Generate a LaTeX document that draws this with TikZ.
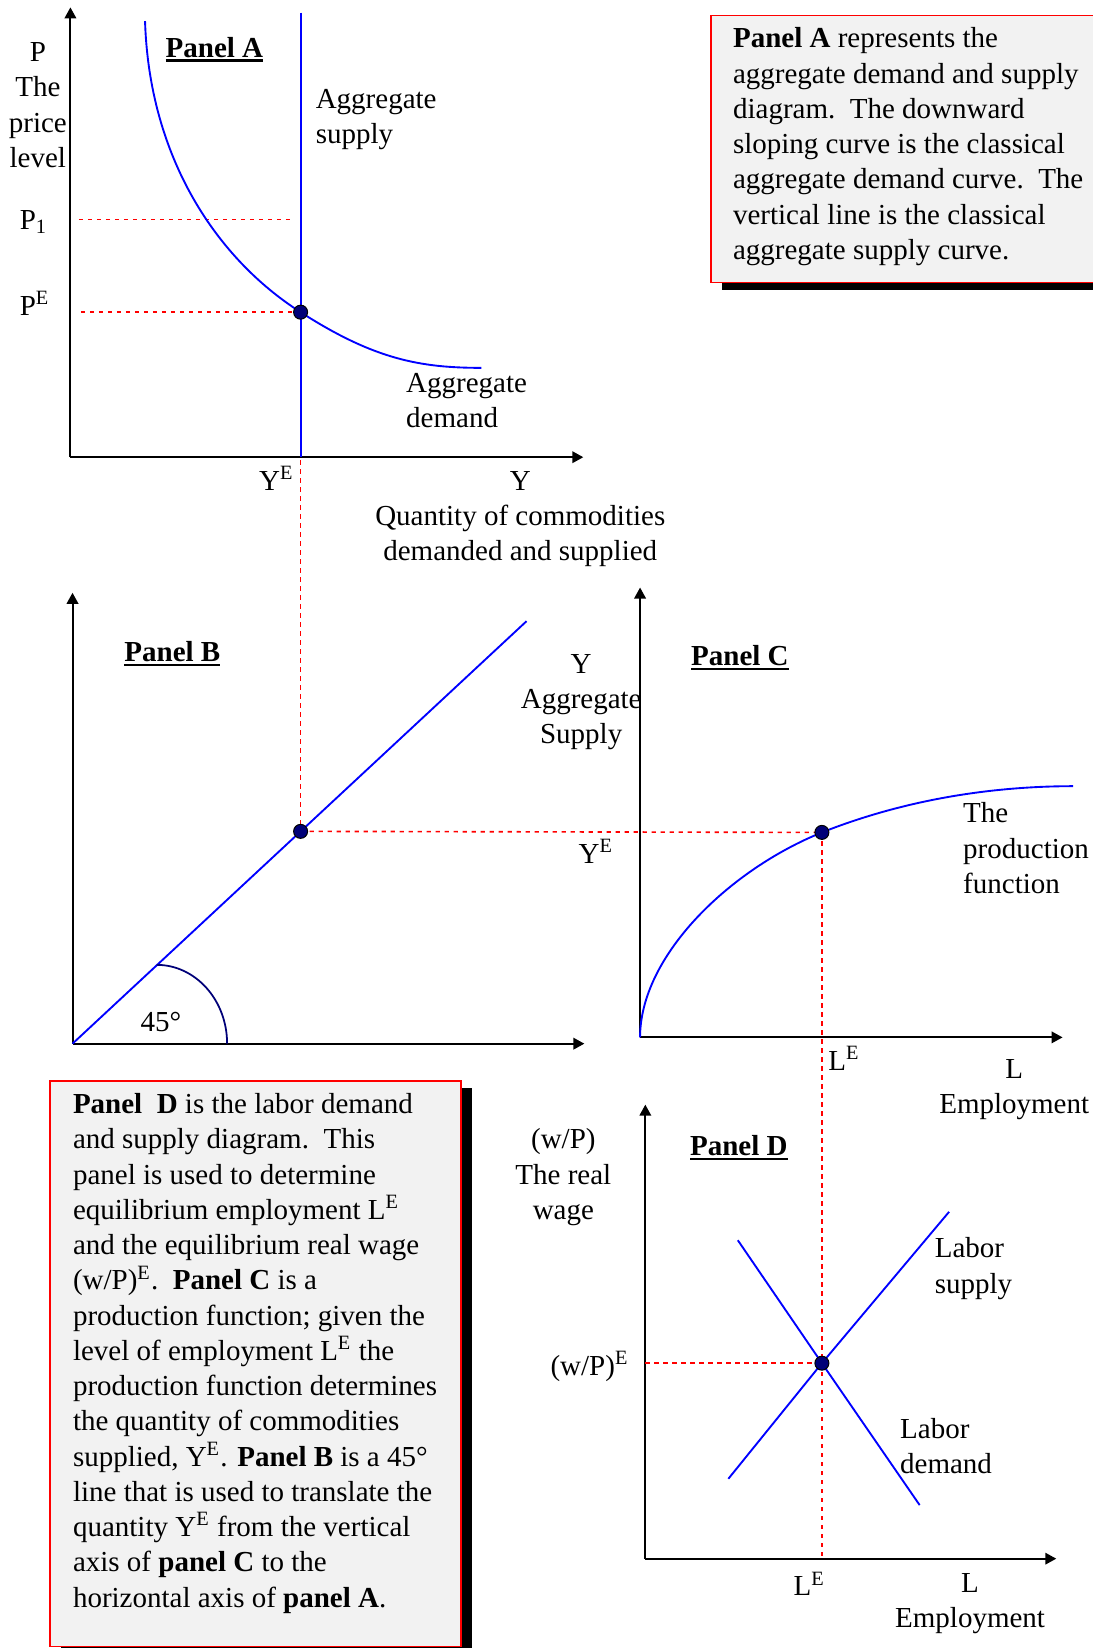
\documentclass[tikz,border=0pt]{standalone}
\usepackage{fontspec}
\setmainfont{Liberation Serif}
\usetikzlibrary{arrows.meta, shadows}
\definecolor{eqnavy}{RGB}{0,0,120}
\definecolor{boxgray}{RGB}{242,242,242}
\newcommand{\diagfont}{\fontsize{11.6pt}{14.1pt}\selectfont}
\newcommand{\panelname}[1]{\setbox0\hbox{\bfseries #1}\rlap{\rule[-1.7pt]{\wd0}{0.85pt}}\box0}
\tikzstyle{axisline} = [line width=0.8pt, -{Triangle[length=4.4pt, width=4.6pt]}]
\tikzstyle{bluecurve} = [blue, line width=0.75pt]
\tikzstyle{guideline} = [red, line width=0.65pt, dash pattern=on 1.7pt off 1.9pt]
\tikzstyle{eqdot} = [circle, fill=eqnavy, draw=black, line width=0.4pt, inner sep=0pt, minimum size=5.6pt]
\tikzstyle{lbl} = [inner sep=0pt, align=center, font=\diagfont]
\tikzstyle{sidelbl} = [inner sep=0pt, align=left, anchor=west, font=\diagfont]
\tikzstyle{textframe} = [rectangle, draw=red, line width=0.6pt, fill=boxgray, anchor=north west, inner sep=0pt, drop shadow={shadow xshift=4.2pt, shadow yshift=-2.9pt, fill=black, opacity=1}]
\tikzstyle{boxtext} = [inner sep=0pt, align=left, anchor=north west, font=\diagfont]

\begin{document}
\begin{tikzpicture}[x=0.4204pt, y=-0.4204pt]
    \useasboundingbox (0,0) rectangle (1039,1568);

    % Panel A
    \coordinate (oA) at (67,435);
    \coordinate (yA) at (67,7);
    \coordinate (xA) at (555,435);
    \coordinate (asTop) at (286,12);
    \coordinate (adTop) at (138,20);
    \coordinate (adEnd) at (458,350);
    \coordinate (p1L) at (75,209);
    \coordinate (p1R) at (278,209);
    \coordinate (peL) at (77,297);
    \coordinate (eA) at (286,297);
    \coordinate (yeA) at (286,438);

    % Panel B
    \coordinate (oB) at (69,993);
    \coordinate (yB) at (69,564);
    \coordinate (xB) at (556,993);
    \coordinate (diagEnd) at (501,591);
    \coordinate (eB) at (286,791);
    \coordinate (arcTop) at (149,918);

    % Panel C
    \coordinate (oC) at (609,987);
    \coordinate (yC) at (609,559);
    \coordinate (xC) at (1011,987);
    \coordinate (eC) at (782,792);
    \coordinate (pfEnd) at (1021,748);

    % Panel D
    \coordinate (oD) at (614,1483);
    \coordinate (yD) at (614,1051);
    \coordinate (xD) at (1005,1483);
    \coordinate (eD) at (782,1297);
    \coordinate (ldTop) at (702,1180);
    \coordinate (ldBot) at (875,1432);
    \coordinate (lsBot) at (693,1407);
    \coordinate (lsTop) at (903,1153);

    \draw[axisline] (oA) -- (yA);
    \draw[axisline] (oA) -- (xA);
    \draw[axisline] (oB) -- (yB);
    \draw[axisline] (oB) -- (xB);
    \draw[axisline] (oC) -- (yC);
    \draw[axisline] (oC) -- (xC);
    \draw[axisline] (oD) -- (yD);
    \draw[axisline] (oD) -- (xD);

    \draw[guideline] (p1L) -- (p1R);
    \draw[guideline] (peL) -- (eA);
    \draw[guideline] (yeA) -- (eB);
    \draw[guideline] (eB) -- (eC);
    \draw[guideline] (eC) -- (eD);
    \draw[guideline] (eD) -- (eD |- oD);
    \draw[guideline] (oD |- eD) -- (eD);

    \draw[bluecurve] (asTop) -- (asTop |- oA);
    \draw[bluecurve] (adTop) .. controls (142,150) and (206,246) .. (eA) .. controls (356,342) and (400,350) .. (adEnd);
    \draw[bluecurve] (oB) -- (diagEnd);
    \draw[eqnavy, line width=0.7pt] (arcTop) arc[start angle=90, end angle=0, x radius=28.2pt, y radius=31.5pt];
    \draw[bluecurve] (oC) .. controls (609,910) and (693,828) .. (eC) .. controls (873,756) and (960,748) .. (pfEnd);
    \draw[bluecurve] (ldTop) -- (eD) -- (ldBot);
    \draw[bluecurve] (lsBot) -- (eD) -- (lsTop);

    \node[eqdot] (dotA) at (eA) {};
    \node[eqdot] (dotB) at (eB) {};
    \node[eqdot] (dotC) at (eC) {};
    \node[eqdot] (dotD) at (eD) {};

    \node[lbl] (priceAxis) at (36,100) {P\\The\\price\\level};
    \node[lbl] (pOne) at (32,211) {P\textsubscript{1}};
    \node[lbl] (pEq) at (33,289) {P\textsuperscript{E}};
    \node[lbl] (panelA) at (204,47) {\panelname{Panel A}};
    \node[sidelbl] (asLbl) at (300,114) {Aggregate\\supply};
    \node[sidelbl] (adLbl) at (386,381) {Aggregate\\demand};
    \node[lbl] (yEqA) at (263,455) {Y\textsuperscript{E}};
    \node[lbl] (qtyAxis) at (495,494) {Y\\Quantity of commodities\\demanded and supplied};

    \node[lbl] (panelB) at (164,622) {\panelname{Panel B}};
    \node[lbl] (angleLbl) at (153,972) {45°};

    \node[lbl] (supAxis) at (553,668) {Y\\Aggregate\\Supply};
    \node[lbl] (yEqC) at (567,810) {Y\textsuperscript{E}};
    \node[lbl] (panelC) at (704,626) {\panelname{Panel C}};
    \node[sidelbl] (pfLbl) at (916,807) {The\\production\\function};
    \node[lbl] (lEqC) at (803,1007) {L\textsuperscript{E}};
    \node[lbl] (empAxisC) at (965,1037) {L\\Employment};

    \node[lbl] (wageAxis) at (536,1120) {(w/P)\\The real\\wage};
    \node[lbl] (wEq) at (561,1300) {(w/P)\textsuperscript{E}};
    \node[lbl] (panelD) at (703,1092) {\panelname{Panel D}};
    \node[sidelbl] (lsLbl) at (889,1207) {Labor\\supply};
    \node[sidelbl] (ldLbl) at (856,1376) {Labor\\demand};
    \node[lbl] (lEqD) at (770,1507) {L\textsuperscript{E}};
    \node[lbl] (empAxisD) at (923,1526) {L\\Employment};

    \node[textframe, minimum width=169.8pt, minimum height=106.8pt] (boxA) at (676,14) {};
    \node[boxtext] (noteA) at (697,26) {\textbf{Panel A} represents the\\
        aggregate demand and supply\\
        diagram.\ \ The downward\\
        sloping curve is the classical\\
        aggregate demand curve.\ \ The\\
        vertical line is the classical\\
        aggregate supply curve.};

    \node[textframe, minimum width=164.4pt, minimum height=226.2pt] (boxD) at (47,1028) {};
    \node[boxtext] (noteD) at (69,1040) {\textbf{Panel\ \ D} is the labor demand\\
        and supply diagram.\ \ This\\
        panel is used to determine\\
        equilibrium employment L\textsuperscript{E}\\
        and the equilibrium real wage\\
        (w/P)\textsuperscript{E}.\ \ \textbf{Panel C} is a\\
        production function; given the\\
        level of employment L\textsuperscript{E} the\\
        production function determines\\
        the quantity of commodities\\
        supplied, Y\textsuperscript{E}. \textbf{Panel B} is a 45°\\
        line that is used to translate the\\
        quantity Y\textsuperscript{E} from the vertical\\
        axis of \textbf{panel C} to the\\
        horizontal axis of \textbf{panel A}.};
\end{tikzpicture}
\end{document}
